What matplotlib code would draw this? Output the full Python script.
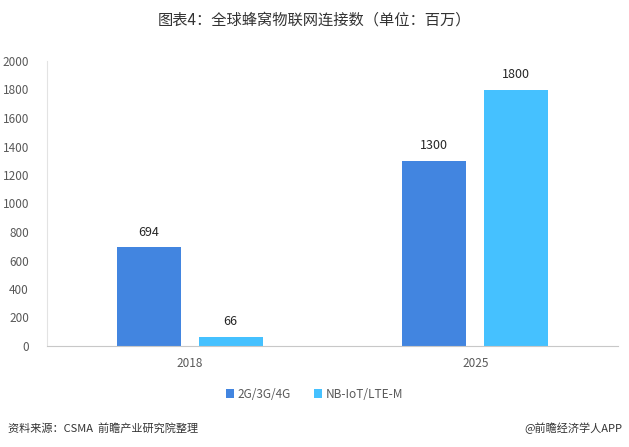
import numpy as np
import matplotlib.pyplot as plt

plt.rcParams['font.family'] = ['Noto Sans CJK SC', 'DejaVu Sans']

years = ['2018', '2025']
series_names = ['2G/3G/4G', 'NB-IoT/LTE-M']
cellular = [694, 1300]
nbiot = [66, 1800]
yticks = [0, 200, 400, 600, 800, 1000, 1200, 1400, 1600, 1800, 2000]

blue = '#4285E0'
cyan = '#45C1FF'
gray_txt = '#595959'

fig = plt.figure(figsize=(6.29, 4.47), dpi=100)
ax = fig.add_axes([47/629, 1-346/447, 571/629, 285/447])

x = np.arange(len(years))
w = 0.224
off = 0.1435
b1 = ax.bar(x - off, cellular, w, color=blue, label=series_names[0])
b2 = ax.bar(x + off, nbiot, w, color=cyan, label=series_names[1])

for bars, vals in [(b1, cellular), (b2, nbiot)]:
    for r, v in zip(bars, vals):
        ax.text(r.get_x() + r.get_width()/2, v + 60, str(v), ha='center', va='bottom',
                fontsize=9, color='#262626')

ax.set_xlim(-0.5, 1.5)
ax.set_ylim(0, 2000)
ax.set_yticks(yticks)
ax.set_xticks(x)
ax.set_xticklabels(years)
ax.tick_params(axis='both', length=0, labelsize=8.5, colors=gray_txt)
ax.tick_params(axis='y', pad=13)
ax.tick_params(axis='x', pad=8)
for s in ['top', 'right']:
    ax.spines[s].set_visible(False)
ax.spines['left'].set_color('#e3e3e3')
ax.spines['bottom'].set_color('#c8c8c8')

fig.text(0.5, 1-20/447, '图表4：全球蜂窝物联网连接数（单位：百万）', ha='center', va='center',
         fontsize=11, color='#333333', fontweight='light')

leg = fig.legend(handles=[b1, b2], loc='center', bbox_to_anchor=(0.5, 1-394/447), ncol=2,
                 frameon=False, fontsize=8.5, handlelength=0.7, handleheight=0.7,
                 handletextpad=0.3, columnspacing=2.0)
for t in leg.get_texts():
    t.set_color(gray_txt)

fig.text(8/629, 1-428/447, '资料来源：CSMA  前瞻产业研究院整理', ha='left', va='center',
         fontsize=8, color='#333333', style='italic', fontweight='light')
fig.text(622/629, 1-428/447, '@前瞻经济学人APP', ha='right', va='center',
         fontsize=8, color='#333333', fontweight='light')

fig.savefig('out.png', dpi=100)
